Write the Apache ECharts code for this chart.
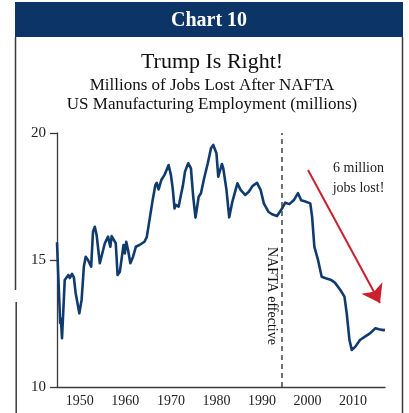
<!DOCTYPE html>
<html>
<head>
<meta charset="utf-8">
<title>Chart 10</title>
<script src="https://cdn.jsdelivr.net/npm/echarts@6/dist/echarts.min.js"></script>
<style>
  html, body { margin: 0; padding: 0; background: #ffffff; }
  #chart { width: 409px; height: 413px; }
</style>
</head>
<body>
<div id="chart"></div>
<script>
// US manufacturing employment, millions (fractional year, level)
const years = [
  1945.0, 1945.3, 1945.7, 1945.85, 1946.1, 1946.7, 1947.5, 1947.8, 1948.3, 1948.7,
  1949.1, 1949.9, 1950.4, 1950.9, 1951.3, 1951.8, 1952.2, 1952.5, 1952.9, 1953.3,
  1953.7, 1954.4, 1954.8, 1955.5, 1956.2, 1956.6, 1956.7, 1957.0, 1957.4, 1957.9,
  1958.3, 1958.8, 1959.3, 1959.6, 1959.9, 1960.2, 1960.6, 1961.1, 1961.7, 1962.3,
  1963.1, 1964.2, 1964.7, 1965.3, 1966.0, 1966.6, 1966.9, 1967.3, 1967.9, 1968.6,
  1969.5, 1970.0, 1970.4, 1970.8, 1971.1, 1971.7, 1972.2, 1972.6, 1973.1, 1973.8,
  1974.4, 1974.9, 1975.4, 1976.1, 1976.6, 1977.3, 1978.1, 1978.8, 1979.3, 1980.0,
  1980.4, 1981.2, 1981.5, 1982.2, 1982.8, 1983.5, 1984.6, 1985.3, 1986.3, 1987.1,
  1987.9, 1988.9, 1989.7, 1990.4, 1991.4, 1992.2, 1993.3, 1994.4, 1995.1, 1996.0,
  1997.0, 1997.9, 1998.6, 1999.5, 2000.6, 2001.0, 2001.5, 2002.3, 2003.1, 2004.0,
  2005.2, 2006.0, 2007.2, 2008.1, 2008.6, 2009.2, 2009.7, 2010.5, 2011.5, 2012.6,
  2013.7, 2014.9, 2015.7, 2016.6, 2017.0
];
const employment = [
  15.70, 14.30, 12.52, 12.70, 11.92, 14.21, 14.41, 14.29, 14.45, 14.32,
  13.69, 12.90, 13.43, 14.74, 15.13, 15.00, 15.07, 14.74, 16.11, 16.31,
  15.98, 14.87, 14.93, 15.66, 15.92, 15.98, 15.52, 15.94, 15.98, 15.66,
  14.41, 14.54, 15.20, 15.59, 15.26, 15.72, 15.39, 14.87, 15.13, 15.52,
  15.59, 15.72, 15.90, 16.57, 17.36, 17.95, 18.04, 17.78, 18.15, 18.35,
  18.74, 18.35, 17.82, 17.03, 17.17, 17.10, 17.56, 17.89, 18.48, 18.81,
  18.61, 17.49, 16.67, 17.49, 17.63, 18.22, 18.81, 19.40, 19.53, 19.20,
  18.28, 18.78, 18.61, 17.76, 16.68, 17.30, 18.02, 17.76, 17.56, 17.69,
  17.91, 18.04, 17.76, 17.23, 16.90, 16.80, 16.73, 17.03, 17.26, 17.20,
  17.36, 17.63, 17.35, 17.30, 17.23, 16.70, 15.52, 15.00, 14.34, 14.28,
  14.21, 14.11, 13.82, 13.56, 12.90, 11.85, 11.46, 11.59, 11.85, 11.98,
  12.11, 12.31, 12.27, 12.24, 12.25
];

// Axis ticks
const xTickYears = [1950, 1960, 1970, 1980, 1990, 2000, 2010];
const yTicks = [10, 15, 20];

// NAFTA entry into force, and the "jobs lost" arrow (year, millions)
const naftaYear = 1994.4;
const arrowFrom = [2000.1, 18.54];
const arrowTo = [2015.9, 13.31];

const SERIF = "'Liberation Serif', 'DejaVu Serif', serif";
const NAVY = '#0c3466';
const LINE = '#103b6e';
const RED = '#c8202e';
const FRAME = '#3a3a3a';

const chart = echarts.init(document.getElementById('chart'));

chart.setOption({
  animation: false,
  backgroundColor: '#ffffff',
  grid: { left: 57, top: 133, right: 24, bottom: 26, containLabel: false },
  xAxis: {
    type: 'value',
    min: 1945,
    max: 2017,
    axisLine: { show: true, lineStyle: { color: FRAME, width: 1.3 } },
    axisTick: { show: false },
    splitLine: { show: false },
    axisLabel: {
      customValues: xTickYears,
      margin: 7,
      color: '#222',
      fontFamily: SERIF,
      fontSize: 14,
      formatter: v => String(v)
    }
  },
  yAxis: {
    type: 'value',
    min: yTicks[0],
    max: yTicks[yTicks.length - 1],
    interval: 5,
    axisLine: { show: true, lineStyle: { color: FRAME, width: 1.3 } },
    axisTick: { show: true, length: 7, lineStyle: { color: FRAME, width: 1.3 } },
    splitLine: { show: false },
    axisLabel: {
      margin: 11,
      color: '#222',
      fontFamily: SERIF,
      fontSize: 15
    }
  },
  series: [{
    type: 'line',
    data: years.map((y, i) => [y, employment[i]]),
    showSymbol: false,
    symbol: 'none',
    lineStyle: { color: LINE, width: 2.6, join: 'round' },
    markLine: {
      silent: true,
      symbol: ['none', 'none'],
      label: { show: false },
      data: [
        {
          xAxis: naftaYear,
          lineStyle: { color: '#444', width: 1.5, type: [5, 4] }
        },
        [
          { coord: arrowFrom, symbol: 'none' },
          {
            coord: arrowTo,
            symbol: 'arrow',
            symbolSize: [18, 17],
            lineStyle: { color: RED, width: 2, type: 'solid' }
          }
        ]
      ]
    }
  }],
  graphic: [
    { type: 'rect', shape: { x: 15, y: 2, width: 388, height: 35 }, style: { fill: NAVY } },
    {
      type: 'text', x: 209, y: 21,
      style: { text: 'Chart 10', fill: '#ffffff', font: 'bold 20px ' + SERIF, align: 'center', verticalAlign: 'middle' }
    },
    { type: 'line', shape: { x1: 15.5, y1: 37, x2: 15.5, y2: 290 }, style: { stroke: FRAME, lineWidth: 1.5 } },
    { type: 'line', shape: { x1: 16.2, y1: 302, x2: 16.2, y2: 413 }, style: { stroke: FRAME, lineWidth: 1.5 } },
    { type: 'line', shape: { x1: 402.5, y1: 37, x2: 402.5, y2: 413 }, style: { stroke: FRAME, lineWidth: 1.5 } },
    {
      type: 'text', x: 212, y: 62,
      style: { text: 'Trump Is Right!', fill: '#111', font: '22px ' + SERIF, align: 'center', verticalAlign: 'middle' }
    },
    {
      type: 'text', x: 212, y: 86,
      style: { text: 'Millions of Jobs Lost After NAFTA', fill: '#111', font: '17px ' + SERIF, align: 'center', verticalAlign: 'middle' }
    },
    {
      type: 'text', x: 212, y: 105,
      style: { text: 'US Manufacturing Employment (millions)', fill: '#111', font: '17px ' + SERIF, align: 'center', verticalAlign: 'middle' }
    },
    {
      type: 'text', x: 272, y: 296, rotation: -Math.PI / 2,
      style: { text: 'NAFTA effective', fill: '#111', font: '14px ' + SERIF, align: 'center', verticalAlign: 'middle' }
    },
    {
      type: 'text', x: 358.5, y: 168,
      style: { text: '6 million', fill: '#222', font: '14px ' + SERIF, align: 'center', verticalAlign: 'middle' }
    },
    {
      type: 'text', x: 358.5, y: 188,
      style: { text: 'jobs lost!', fill: '#222', font: '14px ' + SERIF, align: 'center', verticalAlign: 'middle' }
    }
  ]
});
</script>
</body>
</html>
